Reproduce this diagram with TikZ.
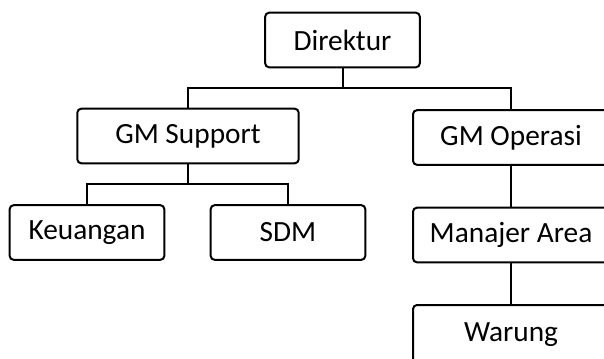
\documentclass[tikz,border=0pt]{standalone}
\usepackage{fontspec}
\setmainfont{Carlito}
\usetikzlibrary{positioning}

\begin{document}
\begin{tikzpicture}[x=0.75pt, y=-0.75pt, line width=1.5pt,
    unit/.style={draw, rounded corners=3pt, minimum height=41pt, inner sep=0pt,
        font=\fontsize{22}{26}\selectfont},
    wide/.style={unit, minimum width=166pt},
    narrow/.style={unit, minimum width=116pt},
    link/.style={line width=1.5pt}]
    % Frame
    \useasboundingbox (0,0) rectangle (604,358);
    \clip (0,0) rectangle (604,358);

    % Top
    \node[narrow] (dir) at (342.5,40) {Direktur};

    % Second level
    \node[wide] (gmsup) at (188,136) {GM Support};
    \node[unit, minimum width=147pt] (gmops) at (511,137.5) {GM Operasi};

    % Support units
    \node[narrow] (keu) at (87,232.5) {Keuangan};
    \node[narrow] (sdm) at (288,232.5) {SDM};

    % Operation line
    \node[unit, minimum width=147pt] (mgr) at (511,235) {Manajer Area};
    \node[unit, minimum width=147pt, minimum height=45pt] (wrg) at (511,335) {Warung};

    % Connectors
    \coordinate (b1) at (dir.south |- 0,88);
    \coordinate (b2) at (gmsup.south |- 0,184);
    \draw[link] (dir.south) -- (b1);
    \draw[link] (gmsup.north) |- (b1) -| (gmops.north);
    \draw[link] (gmsup.south) -- (b2);
    \draw[link] (keu.north) |- (b2) -| (sdm.north);
    \draw[link] (gmops.south) -- (mgr.north);
    \draw[link] (mgr.south) -- (wrg.north);
\end{tikzpicture}
\end{document}
